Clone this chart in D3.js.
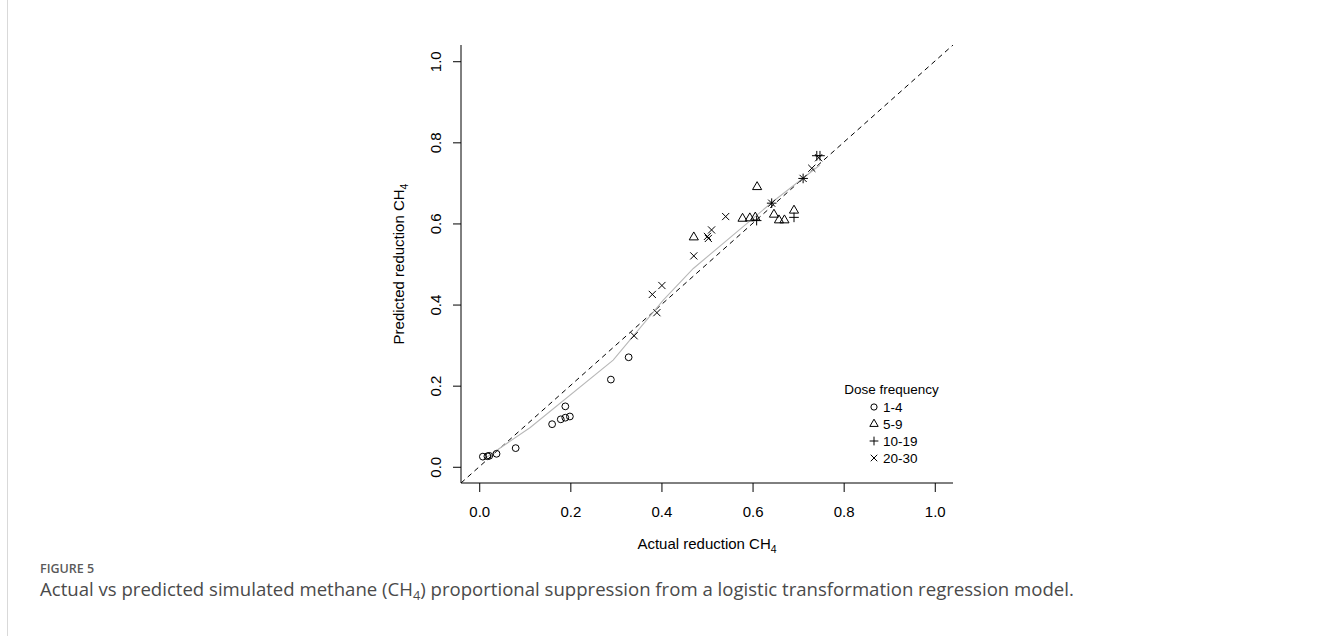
<!DOCTYPE html>
<html>
<head>
<meta charset="utf-8">
<script src="https://cdn.jsdelivr.net/npm/d3@7"></script>
<style>
  html, body { margin: 0; padding: 0; background: #fff; }
  svg { display: block; }
</style>
</head>
<body>
<svg id="fig" width="1319" height="636"></svg>
<script>
// Dose-frequency groups, actual vs predicted proportional CH4 reduction
const groups = ["1-4", "5-9", "10-19", "20-30"];
const symbols = ["circle", "triangle", "plus", "cross"];

const actual_1_4 = [0.008, 0.018, 0.022, 0.038, 0.080, 0.160, 0.179, 0.189, 0.199, 0.189, 0.289, 0.328];
const pred_1_4   = [0.025, 0.026, 0.027, 0.032, 0.046, 0.105, 0.117, 0.121, 0.124, 0.149, 0.215, 0.270];

const actual_5_9 = [0.471, 0.578, 0.594, 0.606, 0.610, 0.647, 0.658, 0.670, 0.691];
const pred_5_9   = [0.566, 0.612, 0.613, 0.615, 0.690, 0.622, 0.608, 0.608, 0.632];

const actual_10_19 = [0.609, 0.642, 0.691, 0.711, 0.741, 0.748];
const pred_10_19   = [0.607, 0.650, 0.615, 0.711, 0.767, 0.767];

const actual_20_30 = [0.340, 0.390, 0.380, 0.401, 0.471, 0.501, 0.503, 0.510, 0.541, 0.642, 0.711, 0.730, 0.745];
const pred_20_30   = [0.323, 0.380, 0.425, 0.447, 0.520, 0.568, 0.563, 0.584, 0.617, 0.650, 0.711, 0.736, 0.762];

// Smoothed fit (lowess) through the points
const smoothX = [0.009, 0.112, 0.294, 0.404, 0.470, 0.645, 0.748];
const smoothY = [0.018, 0.097, 0.263, 0.411, 0.489, 0.654, 0.744];

const xTicks = [0, 0.2, 0.4, 0.6, 0.8, 1.0];
const yTicks = [0, 0.2, 0.4, 0.6, 0.8, 1.0];

const seriesActual = [actual_1_4, actual_5_9, actual_10_19, actual_20_30];
const seriesPred = [pred_1_4, pred_5_9, pred_10_19, pred_20_30];

const svg = d3.select("#fig");
const font = "'Liberation Sans', Arial, sans-serif";
const fs = 15;
const legendFs = 13.5;

// plot region
const pLeft = 461, pRight = 953, pTop = 45, pBottom = 483;
const x = d3.scaleLinear().domain([-0.04, 1.04]).range([pLeft, pRight]);
const y = d3.scaleLinear().domain([-0.04, 1.04]).range([pBottom, pTop]);

// card border
svg.append("line").attr("x1", 7.5).attr("x2", 7.5).attr("y1", 0).attr("y2", 636)
  .attr("stroke", "#d9d9d9").attr("stroke-width", 1);

// plotting symbols: open circle, open triangle, plus, cross
function symbolPath(type, cx, cy, s) {
  if (type === "circle") {
    return `M${cx + s},${cy}A${s},${s} 0 1,1 ${cx - s},${cy}A${s},${s} 0 1,1 ${cx + s},${cy}Z`;
  }
  if (type === "triangle") {
    const r = 1.5551 * s, yc = 0.7776 * s, xc = 1.3468 * s;
    return `M${cx},${cy - r}L${cx + xc},${cy + yc}L${cx - xc},${cy + yc}Z`;
  }
  if (type === "plus") {
    const h = 1.4142 * s;
    return `M${cx - h},${cy}L${cx + h},${cy}M${cx},${cy - h}L${cx},${cy + h}`;
  }
  const c = 1.05 * s;
  return `M${cx - c},${cy - c}L${cx + c},${cy + c}M${cx - c},${cy + c}L${cx + c},${cy - c}`;
}

const clipId = "plotclip";
svg.append("clipPath").attr("id", clipId).append("rect")
  .attr("x", pLeft).attr("y", pTop).attr("width", pRight - pLeft).attr("height", pBottom - pTop);

// 1:1 reference line
svg.append("line")
  .attr("clip-path", `url(#${clipId})`)
  .attr("x1", x(-0.04)).attr("y1", y(-0.04)).attr("x2", x(1.04)).attr("y2", y(1.04))
  .attr("stroke", "#000").attr("stroke-width", 1).attr("stroke-dasharray", "5,4");

// smoothed fit
const line = d3.line().x(d => x(d[0])).y(d => y(d[1]));
svg.append("path")
  .datum(d3.zip(smoothX, smoothY))
  .attr("d", line)
  .attr("fill", "none").attr("stroke", "#b8b8b8").attr("stroke-width", 1.1);

// points
const pts = svg.append("g");
groups.forEach((g, i) => {
  d3.zip(seriesActual[i], seriesPred[i]).forEach(([a, p]) => {
    pts.append("path")
      .attr("d", symbolPath(symbols[i], x(a), y(p), 3.4))
      .attr("fill", "none").attr("stroke", "#000").attr("stroke-width", 1);
  });
});

// L-shaped frame
svg.append("path")
  .attr("d", `M${pLeft},${pTop}V${pBottom}H${pRight}`)
  .attr("fill", "none").attr("stroke", "#000").attr("stroke-width", 1);

// x axis
const xAxis = svg.append("g").attr("transform", `translate(0,${pBottom})`)
  .call(d3.axisBottom(x).tickValues(xTicks).tickSize(9).tickPadding(14).tickFormat(d3.format(".1f")));
xAxis.select(".domain").remove();
xAxis.selectAll("line").attr("stroke", "#000");
xAxis.selectAll("text").attr("font-family", font).attr("font-size", fs).attr("fill", "#000");

// y axis (labels parallel to the axis)
const yAxis = svg.append("g").attr("transform", `translate(${pLeft},0)`)
  .call(d3.axisLeft(y).tickValues(yTicks).tickSize(8).tickFormat(d3.format(".1f")));
yAxis.select(".domain").remove();
yAxis.selectAll("line").attr("stroke", "#000");
yAxis.selectAll("text")
  .attr("font-family", font).attr("font-size", fs).attr("fill", "#000")
  .attr("x", null).attr("dy", null)
  .attr("text-anchor", "middle")
  .attr("transform", "translate(-20.5,0) rotate(-90)");

// axis titles
const xt = svg.append("text").attr("x", (pLeft + pRight) / 2).attr("y", 549)
  .attr("text-anchor", "middle").attr("font-family", font).attr("font-size", fs);
xt.append("tspan").text("Actual reduction CH");
xt.append("tspan").attr("font-size", 10.5).attr("dy", 4).text("4");

const yt = svg.append("text")
  .attr("transform", `translate(404,${(pTop + pBottom) / 2}) rotate(-90)`)
  .attr("text-anchor", "middle").attr("font-family", font).attr("font-size", fs);
yt.append("tspan").text("Predicted reduction CH");
yt.append("tspan").attr("font-size", 10.5).attr("dy", 4).text("4");

// legend
const lg = svg.append("g");
lg.append("text").attr("x", 891.5).attr("y", 394).attr("text-anchor", "middle")
  .attr("font-family", font).attr("font-size", legendFs).text("Dose frequency");
groups.forEach((g, i) => {
  const cy = 407 + i * 17;
  lg.append("path").attr("d", symbolPath(symbols[i], 874, cy, 3.1))
    .attr("fill", "none").attr("stroke", "#000").attr("stroke-width", 1);
  lg.append("text").attr("x", 883).attr("y", cy + 4.8)
    .attr("font-family", font).attr("font-size", legendFs).text(g);
});

// caption
const capFont = "'Open Sans', 'Noto Sans', sans-serif";
svg.append("text").attr("x", 40).attr("y", 573)
  .attr("font-family", capFont).attr("font-size", 12.5).attr("font-weight", 600)
  .attr("fill", "#5a5a5a").text("FIGURE 5");
const cap = svg.append("text").attr("x", 40).attr("y", 596)
  .attr("font-family", capFont).attr("font-size", 16).attr("fill", "#4a4a4a");
cap.append("tspan").text("Actual vs predicted simulated methane (CH");
cap.append("tspan").attr("font-size", 11).attr("dy", 4).text("4");
cap.append("tspan").attr("dy", -4).text(") proportional suppression from a logistic transformation regression model.");
// fit caption to its column width
const w = cap.node().getComputedTextLength();
const k = 1034 / w;
cap.attr("font-size", 16 * k);
cap.selectAll("tspan").filter((d, i) => i === 1).attr("font-size", 11 * k);
</script>
</body>
</html>
